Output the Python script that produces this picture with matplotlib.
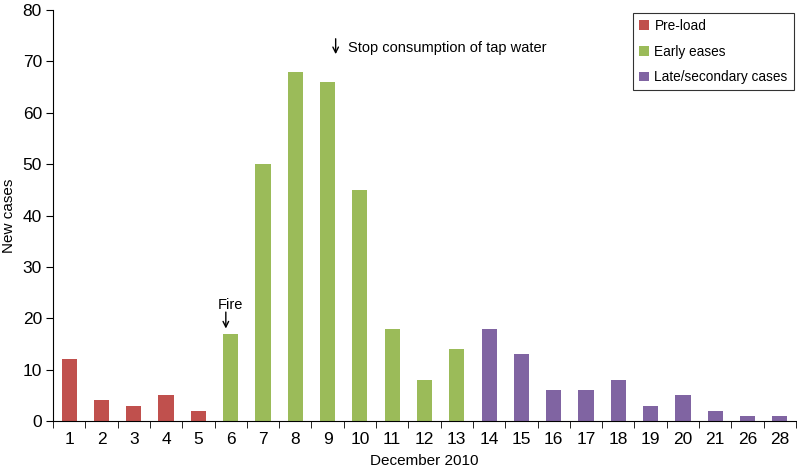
import matplotlib.pyplot as plt
import numpy as np

plt.rcParams['font.family'] = ['Liberation Sans', 'DejaVu Sans']

days = ['1', '2', '3', '4', '5', '6', '7', '8', '9', '10', '11', '12',
        '13', '14', '15', '16', '17', '18', '19', '20', '21', '26', '28']
cases = [12, 4, 3, 5, 2, 17, 50, 68, 66, 45, 18, 8,
         14, 18, 13, 6, 6, 8, 3, 5, 2, 1, 1]
phase = ['pre'] * 5 + ['early'] * 8 + ['late'] * 10

colors = {'pre': '#C0504D', 'early': '#9BBB59', 'late': '#8064A2'}
labels = {'pre': 'Pre-load', 'early': 'Early eases', 'late': 'Late/secondary cases'}

fig = plt.figure(figsize=(7.97, 4.74), dpi=100)
ax = fig.add_axes([53 / 797, 53 / 474, 743 / 797, 411 / 474])

x = np.arange(len(days))
for p in ['pre', 'early', 'late']:
    idx = [i for i in range(len(days)) if phase[i] == p]
    ax.bar(x[idx], [cases[i] for i in idx], width=0.47, color=colors[p],
           label=labels[p], zorder=2)

ax.set_xlim(-0.5, len(days) - 0.5)
ax.set_ylim(0, 80)
ax.set_yticks(range(0, 81, 10))
ax.set_xticks(x)
ax.set_xticklabels(days)
ax.set_xticks(np.arange(-0.5, len(days), 1), minor=True)
ax.tick_params(axis='x', which='major', length=0, labelsize=12.5, pad=8)
ax.tick_params(axis='x', which='minor', length=5, direction='out')
ax.tick_params(axis='y', length=5, direction='out', labelsize=12.5, pad=3)

ax.spines['top'].set_visible(False)
ax.spines['right'].set_visible(False)

ax.set_xlabel('December 2010', fontsize=11, labelpad=5)
ax.set_ylabel('New cases', fontsize=11, labelpad=5)

ax.text(5, 21.3, 'Fire', ha='center', va='bottom', fontsize=10.5)
ax.annotate('', xy=(4.85, 18.0), xytext=(4.85, 21.2),
            arrowprops=dict(arrowstyle='->', lw=1, color='black',
                            shrinkA=0, shrinkB=0))
ax.annotate('', xy=(8.25, 71.4), xytext=(8.25, 74.4),
            arrowprops=dict(arrowstyle='->', lw=1, color='black',
                            shrinkA=0, shrinkB=0))
ax.text(8.62, 72.7, 'Stop consumption of tap water', ha='left', va='center',
        fontsize=10.5)

leg = ax.legend(loc='upper right', bbox_to_anchor=(0.997, 0.993),
                fontsize=9.8, frameon=True, fancybox=False,
                handlelength=0.7, handleheight=0.7, handletextpad=0.4,
                labelspacing=0.85, borderpad=0.45, borderaxespad=0)
leg.get_frame().set_edgecolor('black')
leg.get_frame().set_linewidth(0.8)

fig.savefig('out.png', dpi=100)
